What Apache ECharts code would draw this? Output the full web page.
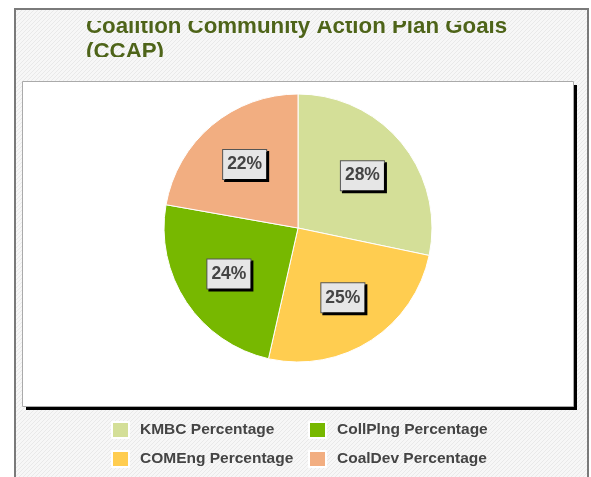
<!DOCTYPE html>
<html>
<head>
<meta charset="utf-8">
<script src="https://cdn.jsdelivr.net/npm/echarts@6/dist/echarts.min.js"></script>
<style>
html, body { margin: 0; padding: 0; background: #fff; }
#chart { width: 591px; height: 477px; }
</style>
</head>
<body>
<div id="chart"></div>
<script>
const titleText = 'Coalition Community Action Plan Goals\n(CCAP)';
const categories = ['KMBC Percentage', 'COMEng Percentage', 'CollPlng Percentage', 'CoalDev Percentage'];
const values = [28, 25, 24, 22];
const colors = ['#d4df98', '#ffcd50', '#77b800', '#f2ae81'];
const legendLeft = ['KMBC Percentage', 'COMEng Percentage'];
const legendRight = ['CollPlng Percentage', 'CoalDev Percentage'];

// little diagonal hatch used for the page background
function hatch() {
  const c = document.createElement('canvas');
  c.width = 4;
  c.height = 4;
  const ctx = c.getContext('2d');
  ctx.fillStyle = '#f7f7f7';
  ctx.fillRect(0, 0, 4, 4);
  ctx.fillStyle = '#e9e9e9';
  for (let i = 0; i < 4; i++) ctx.fillRect(3 - i, i, 1, 1);
  return c;
}
const bgFill = { image: hatch(), repeat: 'repeat' };

const pieData = categories.map((name, i) => ({ name, value: values[i] }));
const font = 'Liberation Sans, Arial, sans-serif';

const legendStyle = {
  orient: 'vertical',
  top: 421,
  padding: 0,
  itemWidth: 17,
  itemHeight: 16,
  itemGap: 11,
  icon: 'rect',
  textStyle: {
    fontFamily: font,
    fontSize: 15.5,
    fontWeight: 'bold',
    color: '#444',
    padding: [0, 0, 0, 6]
  }
};

const option = {
  backgroundColor: '#fff',
  animation: false,
  color: colors,
  title: {
    text: titleText,
    left: 81,
    top: 9,
    textStyle: {
      fontFamily: font,
      fontSize: 22.3,
      lineHeight: 25.5,
      fontWeight: 'bold',
      color: '#4e6419'
    }
  },
  legend: [
    Object.assign({ left: 111, data: legendLeft }, legendStyle),
    Object.assign({ left: 308, data: legendRight }, legendStyle)
  ],
  graphic: [
    {
      type: 'rect', z: -10,
      shape: { x: 15, y: 9, width: 573, height: 500 },
      style: { fill: bgFill, stroke: '#7a7a7a', lineWidth: 2 }
    },
    {
      type: 'rect', z: -9,
      shape: { x: 26, y: 85, width: 551, height: 325 },
      style: { fill: '#000' }
    },
    {
      type: 'rect', z: -8,
      shape: { x: 22.5, y: 81.5, width: 551, height: 325 },
      style: { fill: '#fff', stroke: '#aaa', lineWidth: 1 }
    },
    // the title box clips its text top and bottom
    {
      type: 'rect', z: 100, silent: true,
      shape: { x: 16, y: 10, width: 571, height: 11 },
      style: { fill: bgFill }
    },
    {
      type: 'rect', z: 100, silent: true,
      shape: { x: 16, y: 57, width: 571, height: 23.5 },
      style: { fill: bgFill }
    }
  ],
  series: [
    {
      type: 'pie',
      center: [298, 228],
      radius: 134,
      startAngle: 90,
      data: pieData,
      label: { show: false },
      labelLine: { show: false },
      itemStyle: { borderColor: '#fff', borderWidth: 1 },
      emphasis: { disabled: true }
    },
    {
      // invisible copy, only there to place the labels a bit further out
      type: 'pie',
      center: [298, 228],
      radius: 160,
      startAngle: 90,
      silent: true,
      data: pieData,
      itemStyle: { color: 'rgba(0,0,0,0)' },
      emphasis: { disabled: true },
      labelLine: { show: false },
      label: {
        show: true,
        position: 'inside',
        formatter: '{c}%',
        fontFamily: font,
        fontSize: 17.5,
        lineHeight: 18,
        fontWeight: 'bold',
        color: '#444',
        backgroundColor: '#e6e6e6',
        borderColor: '#555',
        borderWidth: 1,
        padding: [6, 4, 5, 4],
        shadowColor: '#000',
        shadowOffsetX: 2,
        shadowOffsetY: 2,
        shadowBlur: 0
      }
    }
  ]
};

const chart = echarts.init(document.getElementById('chart'));
chart.setOption(option);
</script>
</body>
</html>
